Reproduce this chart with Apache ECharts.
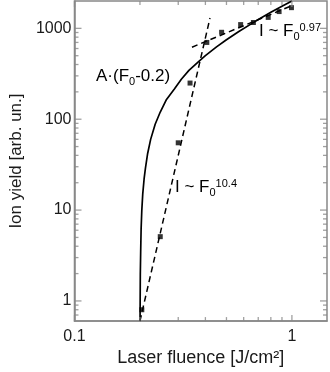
<!DOCTYPE html>
<html>
<head>
<meta charset="utf-8">
<script src="https://cdn.jsdelivr.net/npm/echarts@6/dist/echarts.min.js"></script>
<style>
  html, body { margin: 0; padding: 0; background: #fff; }
  #chart { width: 330px; height: 372px; }
</style>
</head>
<body>
<div id="chart"></div>
<script>
// measured points
const fluence = [0.204, 0.248, 0.300, 0.340, 0.406, 0.475, 0.581, 0.665, 0.778, 0.873, 0.995]
const ionYield = [0.80, 5.1, 55, 250, 700, 905, 1100, 1160, 1320, 1530, 1690]

// fit curve A·(F0-0.2)
const fitX = [0.2002, 0.2008, 0.2016, 0.2025, 0.204, 0.206, 0.209, 0.212, 0.217, 0.224, 0.235, 0.248, 0.265, 0.288, 0.31, 0.336, 0.37, 0.40, 0.45, 0.50, 0.57, 0.65, 0.72, 0.80, 0.90, 1.0]
const fitY = [0.6, 2.0, 3.6, 6.2, 10, 15, 22, 29, 42, 60, 88, 120, 165, 215, 275, 345, 425, 500, 625, 750, 925, 1120, 1300, 1500, 1750, 2000]

// power law guide lines
const steepX = [0.2, 0.42]
const steepY = [0.6, 1300]
const flatX = [0.347, 1.0]
const flatY = [620, 1780]

// axes
const xRange = [0.1, 1.45]
const yRange = [0.6, 2000]
const xMajor = [0.1, 1]
const xMinor = [0.2, 0.3, 0.4, 0.5, 0.6, 0.7, 0.8, 0.9]
const yMajor = [1, 10, 100, 1000]
const yMinor = [0.7, 0.8, 0.9, 2, 3, 4, 5, 6, 7, 8, 9, 20, 30, 40, 50, 60, 70, 80, 90, 200, 300, 400, 500, 600, 700, 800, 900]

const FONT = '"Liberation Sans", Arial, sans-serif'
const axisColor = '#888888'
const textColor = '#1a1a1a'

const toPairs = (xs, ys) => xs.map((x, i) => [x, ys[i]])

// inward ticks on all four sides, as thin rect symbols sitting on the frame
function ticks(values, side, len) {
  const w = 1.3
  let data, size, offset
  if (side === 'bottom') { data = values.map(v => [v, yRange[0]]); size = [w, len]; offset = [0, -len / 2] }
  if (side === 'top') { data = values.map(v => [v, yRange[1]]); size = [w, len]; offset = [0, len / 2] }
  if (side === 'left') { data = values.map(v => [xRange[0], v]); size = [len, w]; offset = [len / 2, 0] }
  if (side === 'right') { data = values.map(v => [xRange[1], v]); size = [len, w]; offset = [-len / 2, 0] }
  return {
    type: 'scatter',
    data,
    symbol: 'rect',
    symbolSize: size,
    symbolOffset: offset,
    itemStyle: { color: axisColor },
    silent: true,
    clip: false,
    z: 5,
  }
}

const fmt = v => String(Number(Number(v).toPrecision(6)))

const rich = {
  m: { fontSize: 17, fontFamily: FONT, color: textColor },
  s: { fontSize: 11, fontFamily: FONT, color: textColor, padding: [10, 0, 0, 0] },
  p: { fontSize: 11, fontFamily: FONT, color: textColor, padding: [0, 0, 8, 0] },
}

const chart = echarts.init(document.getElementById('chart'))

chart.setOption({
  animation: false,
  backgroundColor: '#fff',
  grid: {
    left: 71, right: 3, top: 1, bottom: 47,
    show: true, borderColor: axisColor, borderWidth: 1.5,
  },
  xAxis: {
    type: 'log',
    min: xRange[0],
    max: xRange[1],
    name: 'Laser fluence [J/cm²]',
    nameLocation: 'middle',
    nameGap: 21,
    nameTextStyle: { fontSize: 18, fontFamily: FONT, color: textColor },
    axisLine: { lineStyle: { color: axisColor, width: 1.5 } },
    axisTick: { show: false },
    splitLine: { show: false },
    axisLabel: {
      fontSize: 16, fontFamily: FONT, color: textColor, margin: 7,
      showMaxLabel: false, formatter: fmt,
    },
  },
  yAxis: {
    type: 'log',
    min: yRange[0],
    max: yRange[1],
    name: 'Ion yield [arb. un.]',
    nameLocation: 'middle',
    nameGap: 47,
    nameTextStyle: { fontSize: 17, fontFamily: FONT, color: textColor },
    axisLine: { lineStyle: { color: axisColor, width: 1.5 } },
    axisTick: { show: false },
    splitLine: { show: false },
    axisLabel: {
      fontSize: 16, fontFamily: FONT, color: textColor, margin: 3,
      showMinLabel: false, showMaxLabel: false, formatter: fmt,
    },
  },
  series: [
    ticks(xMajor, 'bottom', 6),
    ticks(xMajor, 'top', 6),
    ticks(xMinor, 'bottom', 4),
    ticks(xMinor, 'top', 4),
    ticks(yMajor, 'left', 7),
    ticks(yMajor, 'right', 7),
    ticks(yMinor, 'left', 4),
    ticks(yMinor, 'right', 4),
    {
      type: 'line',
      data: toPairs(fitX, fitY),
      showSymbol: false,
      lineStyle: { color: '#000', width: 1.7 },
      z: 3,
    },
    {
      type: 'line',
      data: toPairs(steepX, steepY),
      showSymbol: false,
      lineStyle: { color: '#000', width: 1.5, type: [6, 4] },
      z: 3,
    },
    {
      type: 'line',
      data: toPairs(flatX, flatY),
      showSymbol: false,
      lineStyle: { color: '#000', width: 1.5, type: [6, 4] },
      z: 3,
    },
    {
      type: 'scatter',
      data: toPairs(fluence, ionYield),
      symbol: 'rect',
      symbolSize: 5,
      itemStyle: { color: '#000' },
      z: 4,
    },
  ],
  graphic: [
    { type: 'text', left: 96, top: 68, style: { text: '{m|A·(F}{s|0}{m|-0.2)}', rich } },
    { type: 'text', left: 259, top: 22, style: { text: '{m|I ~ F}{s|0}{p|0.97}', rich } },
    { type: 'text', left: 175, top: 178, style: { text: '{m|I ~ F}{s|0}{p|10.4}', rich } },
  ],
})
</script>
</body>
</html>
